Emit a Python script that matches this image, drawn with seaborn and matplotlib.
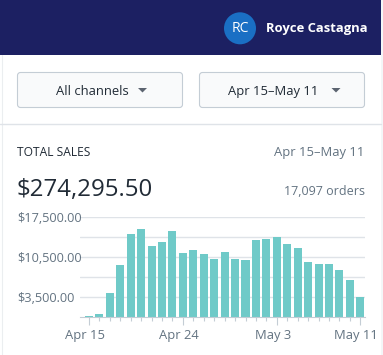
import matplotlib
matplotlib.use("Agg")
import numpy as np
import pandas as pd
import seaborn as sns
from matplotlib import pyplot as plt
from matplotlib import transforms
from matplotlib.patches import Rectangle, FancyBboxPatch, Circle, Polygon

# daily total sales, Apr 15 - May 11
days = [f"Apr {d}" for d in range(15, 31)] + [f"May {d}" for d in range(1, 12)]
sales = [240, 580, 4260, 9160, 14610, 15460, 12540, 13210, 15110, 11290,
         11810, 11110, 10270, 11460, 10210, 10030, 13560, 13710, 14090, 12860,
         12160, 9710, 9360, 9360, 8280, 6560, 3470]
shown_days = ["Apr 15", "Apr 24", "May 3", "May 11"]
y_ticks = [3500, 7000, 10500, 14000, 17500]
y_labelled = [3500, 10500, 17500]

W, H = 383, 355
PT = 0.72  # points per pixel at dpi 100

NAVY = "#1c2062"
TEAL = "#6fcac8"
DARK = "#212b36"
GRAY = "#637381"
LINE = "#dfe3e8"

sns.set_theme(style="white")
plt.rcParams["font.family"] = ["Open Sans", "DejaVu Sans"]

fig = plt.figure(figsize=(W / 100, H / 100), dpi=100)
fig.patch.set_facecolor("white")

# full-figure axes for the page furniture, in pixel coords (y down)
ui = fig.add_axes([0, 0, 1, 1])
ui.set_xlim(0, W)
ui.set_ylim(H, 0)
ui.axis("off")

ui.add_patch(Rectangle((0, 0), 380.5, 55, color=NAVY, lw=0))
ui.add_patch(Rectangle((381, 0), 2, H, color="#f4f6f8", lw=0))
ui.plot([1.5, 1.5], [55, H], color="#ebeef0", lw=0.8)
ui.add_patch(Circle((240, 28.3), 16, color="#1a6fc4", lw=0))
ui.text(240, 28.5, "RC", color="white", fontsize=14 * PT, ha="center", va="center")
ui.text(265.5, 28.5, "Royce Castagna", color="white", fontsize=13 * PT,
        fontweight="bold", ha="left", va="center")

# dropdown buttons
for x0, label, tx, ax_ in [(17.5, "All channels", 56, 142.5), (199.5, "Apr 15\u2013May 11", 227.7, 336)]:
    ui.add_patch(FancyBboxPatch((x0, 72.5), 165, 35, boxstyle="round,pad=0,rounding_size=3",
                                fc="#f9fafb", ec="#c4cdd5", lw=0.8))
    ui.text(tx, 95, label, color=DARK, fontsize=13 * PT, ha="left", va="baseline")
    ui.add_patch(Polygon([(ax_ - 4.5, 88), (ax_ + 4.5, 88), (ax_, 92.5)], color="#5c6470", lw=0))

ui.plot([0, 381], [123.5, 123.5], color=LINE, lw=1)

ui.text(17, 156, "TOTAL SALES", color=DARK, fontsize=12 * PT, ha="left", va="baseline")
ui.text(364.5, 156, "Apr 15\u2013May 11", color=GRAY, fontsize=13 * PT, ha="right", va="baseline")
ui.text(17, 196, "$274,295.50", color=DARK, fontsize=24 * PT, ha="left", va="baseline")
ui.text(364.5, 195, "17,097 orders", color=GRAY, fontsize=12.5 * PT, ha="right", va="baseline")

# the chart
df = pd.DataFrame({"day": days, "sales": sales})
ax = fig.add_axes([80 / W, (H - 317.3) / H, 285 / W, 100.6 / H])
ax.patch.set_alpha(0)
sns.barplot(data=df, x="day", y="sales", color=TEAL, saturation=1, width=0.77,
            errorbar=None, linewidth=0, ax=ax)
ax.set_xlim(-0.86, 26.45)
ax.set_ylim(0, 17600)
ax.set_xlabel("")
ax.set_ylabel("")
for s in ["top", "right", "left"]:
    ax.spines[s].set_visible(False)
ax.spines["bottom"].set_color("#c4cdd5")
ax.spines["bottom"].set_linewidth(0.8)

ax.set_yticks(y_ticks, [f"${v:,.2f}" if v in y_labelled else "" for v in y_ticks])
ax.tick_params(axis="y", length=0, pad=63 * PT, labelsize=12.8 * PT, labelcolor=GRAY)
for t in ax.get_yticklabels():
    t.set_ha("left")
ax.grid(axis="y", color=LINE, linewidth=1)
ax.set_axisbelow(True)

ax.set_xticks([days.index(d) for d in shown_days], shown_days)
ax.set_xticks(range(len(days)), minor=True)
ax.tick_params(axis="x", which="both", bottom=True, color="#c4cdd5", width=0.8)
ax.tick_params(axis="x", which="major", length=8 * PT, pad=4 * PT,
               labelsize=13 * PT, labelcolor=GRAY)
ax.tick_params(axis="x", which="minor", length=4 * PT)
shift = transforms.ScaledTranslation(-4 / 100, 0, fig.dpi_scale_trans)
for t in ax.get_xticklabels():
    t.set_transform(t.get_transform() + shift)

fig.savefig("out.png", dpi=100, facecolor="white")
